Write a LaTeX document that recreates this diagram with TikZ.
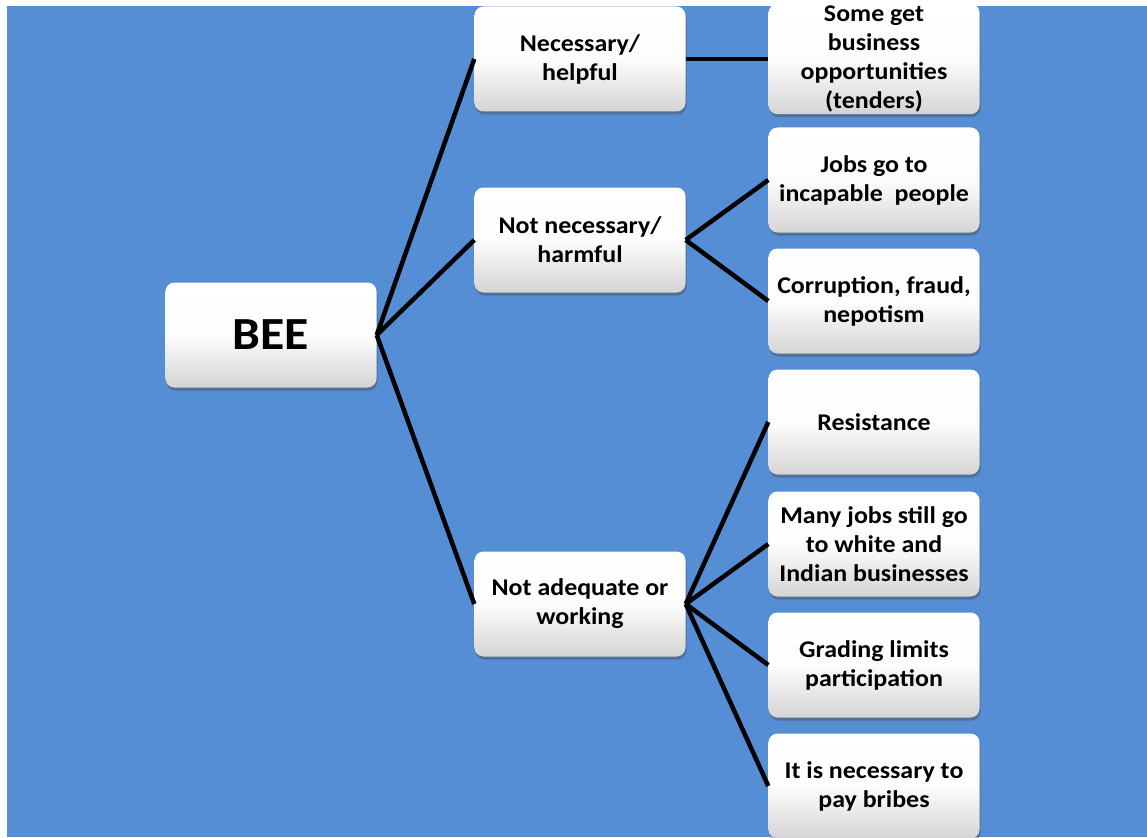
\documentclass[tikz,border=0pt]{standalone}
\usepackage{fontspec}
\setmainfont{Carlito}[FakeStretch=1.08]
\usetikzlibrary{shadows}
\definecolor{myblue}{RGB}{85,142,213}
\definecolor{mygrey}{RGB}{212,212,212}

\begin{document}
\begin{tikzpicture}[x=1pt,y=-1pt,
    mybox/.style={rounded corners=9pt,minimum width=211pt,minimum height=105pt,
      align=center,inner sep=2pt,top color=white,bottom color=mygrey,
      middle color=white!95!mygrey,
      drop shadow={shadow xshift=1pt,shadow yshift=-3pt,opacity=0.45,fill=black!70},
      font=\fontsize{24}{29}\selectfont\bfseries},
    myline/.style={line width=4.5pt,black}]
    \useasboundingbox (0,0) rectangle (1147,837);
    \fill[myblue] (7,6) rectangle (1147,837);

    % root
    \node[mybox,font=\fontsize{46}{56}\selectfont\bfseries] (bee) at (271,335) {BEE};

    % first level
    \node[mybox] (help) at (580,59) {Necessary/\\helpful};
    \node[mybox] (harm) at (580,240) {Not necessary/\\harmful};
    \node[mybox] (work) at (580,604) {Not adequate or\\working};

    % second level
    \node[mybox] (tend) at (874,59) {Some get\\business\\opportunities\\(tenders)};
    \node[mybox] (jobs) at (874,180) {Jobs go to\\incapable~ people};
    \node[mybox] (corr) at (874,301) {Corruption, fraud,\\nepotism};
    \node[mybox] (resi) at (874,422) {Resistance};
    \node[mybox] (many) at (874,544) {Many jobs still go\\to white and\\Indian businesses};
    \node[mybox] (grad) at (874,665) {Grading limits\\participation};
    \node[mybox] (brib) at (874,786) {It is necessary to\\pay bribes};

    % connectors
    \foreach \Xn in {help,harm,work}
    {
      \draw[myline] (bee.east) -- (\Xn.west);
    }
    \draw[myline] (help.east) -- (tend.west);
    \foreach \Xn in {jobs,corr}
    {
      \draw[myline] (harm.east) -- (\Xn.west);
    }
    \foreach \Xn in {resi,many,grad,brib}
    {
      \draw[myline] (work.east) -- (\Xn.west);
    }
\end{tikzpicture}
\end{document}
